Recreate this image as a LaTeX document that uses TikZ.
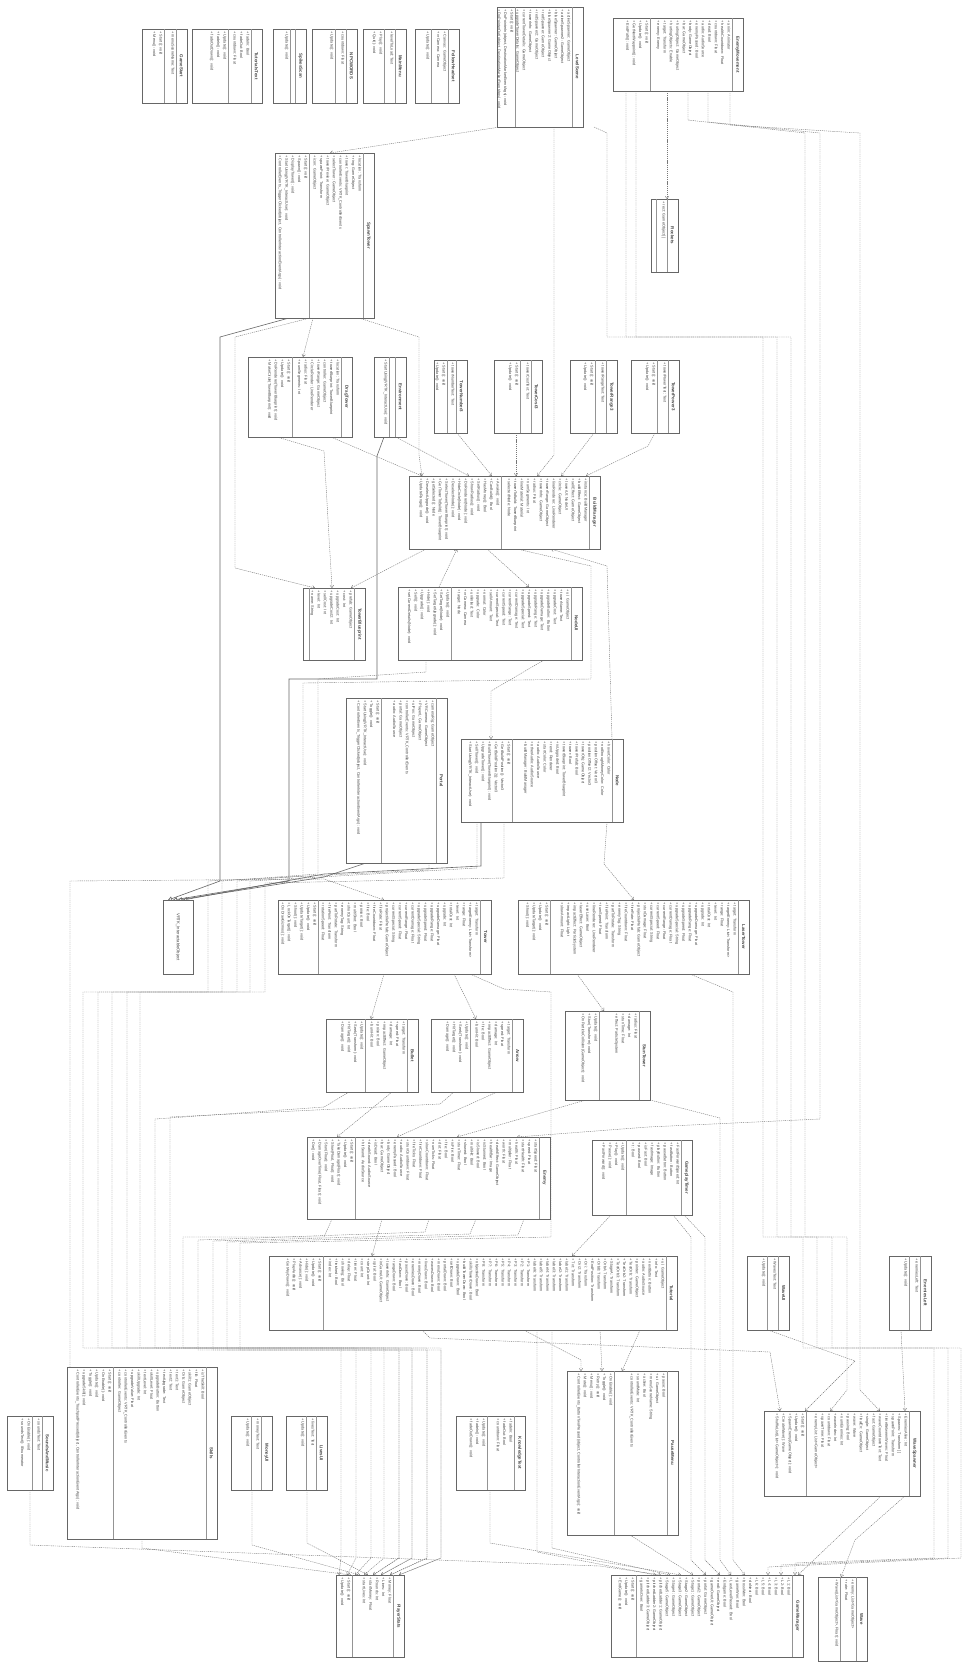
\documentclass[tikz,border=0pt]{standalone}
\usepackage{fontspec}
\setmainfont{Liberation Sans}
\usetikzlibrary{arrows.meta,backgrounds}
\definecolor{linecol}{HTML}{666666}
\definecolor{txtcol}{HTML}{444444}
\definecolor{depcol}{HTML}{777777}
\newcommand\memfont{\fontsize{3.8}{6.4}\selectfont}
\newcommand\ttlfont{\fontsize{4.4}{5}\selectfont\bfseries}
\tikzset{
  clsbox/.style={draw=linecol, fill=white, line width=0.7pt, inner sep=0pt, outer sep=0pt},
  compline/.style={draw=linecol!70, line width=0.4pt},
  ttl/.style={rotate=-90, font=\ttlfont, text=txtcol, inner sep=0pt},
  mem/.style={rotate=-90, anchor=north west, align=left, font=\memfont, text=txtcol, inner sep=0pt},
  dep/.style={draw=depcol, line width=0.4pt, dash pattern=on 1.2pt off 0.9pt, -{Straight Barb[length=2.4pt,width=3.6pt]}},
  inh/.style={draw=linecol, line width=0.6pt, -{Triangle[open,length=4pt,width=4.5pt]}},
}
% #1 name, #2 x1, #3 y1, #4 x2, #5 y2, #6 attribute width, #7 title, #8 attributes, #9 methods
\newcommand\umlclass[9]{%
  \node[clsbox, minimum width={#4pt-#2pt}, minimum height={#5pt-#3pt}, anchor=north west] (#1) at (#2,#3) {};
  \draw[compline] ([xshift=-11pt]#1.north east) -- ([xshift=-11pt]#1.south east);
  \draw[compline] ([xshift={-11pt-#6pt}]#1.north east) -- ([xshift={-11pt-#6pt}]#1.south east);
  \node[ttl] at ([xshift=-5.5pt]#1.east) {#7};
  \node[mem] at ([xshift=-12.5pt, yshift=-2.5pt]#1.north east) {#8};
  \node[mem] at ([xshift={-12.5pt-#6pt}, yshift=-2.5pt]#1.north east) {#9};
}
\begin{document}
\begin{tikzpicture}[x=1pt,y=-1pt]
\useasboundingbox (0,0) rectangle (971,1663);

% ---------------- top row
\umlclass{gamestart}{142}{29}{187}{103}{12}{GameStart}{+ menuSceneName: Text}{+ Start(): void\\+ Menu(): void}
\umlclass{tutorial}{192}{29}{262}{103}{23}{TutorialsText}{+ fadeIn: Bool\\+ fadeOut: Bool\\+ countdown: Float}{+ Update(): void\\+ fadeIn(): void\\+ fadeOutDown(): void}
\umlclass{spikes}{273}{29}{306}{103}{5}{SpikesScan}{}{+ Update(): void}
\umlclass{npc}{312}{29}{357}{103}{11}{NPCWORDS}{+ countdown: Float}{+ Update(): void}
\umlclass{mainmenu}{363}{29}{406}{103}{11}{MainMenu}{+ levelToLoad: Text}{+ Play(): void\\+ Quit(): void}
\umlclass{follow}{415}{29}{459}{103}{17}{FollowHeadset}{+ Canvas: GameObject\\+ vrCamera: Camera}{+ Update(): void}
\umlclass{levelscene}{497}{7}{583}{127}{57}{LevelScene}{+ activeSpawner: GameObject\\+ activeSpawner2: GameObject\\+ blueSpawner: GameObject\\+ blueSpawner2: GameObject\\+ redSpawner: GameObject\\+ redSpawner2: GameObject\\+ towerInfo: GameObject\\+ currentTowerDetails: GameObject\\+ upgradeTowerDetails: GameObject}{+ Start(): void\\+ DoPointerIn(object, DestinationMarkerEventArgs): void\\+ DoPointerOut(object, DestinationMarkerEventArgs): void}
\umlclass{enemymove}{613}{18}{743}{91}{82}{EnemyMovement}{+ anim: Animator\\+ healthCountdown: Float\\+ countdown: Float\\+ dead: Bool\\+ audio: AudioSource\\+ enemyPassed: Bool\\+ body: GameObject\\+ bar: GameObject\\+ hurtingObject: GameObject\\+ hurtingObjects: Enable\\+ target: Transform\\+ enemy: Enemy}{+ Start(): void\\+ Update(): void\\+ GetNextWaypoint(): void\\+ EndPath(): void}
\umlclass{rockets}{651}{199}{678}{272}{11}{Rockets}{+ rect: GameObject[ ]}{}

% ---------------- spawn / build area
\umlclass{spawntower}{275}{153}{374}{318}{54}{SpawnTower}{+ location: Transform\\+ ring: GameObject\\+ tower: TowerBlueprint\\+ controllerEvents: VRTK\_ControllerEvents\\+ selectTower: GameObject\\+ towerPreview: GameObject\\+ spawnPoint: Transform\\+ icon: GameObject}{+ Start(): void\\+ Spawn(): void\\+ DisplayTower(): void\\+ StartUsing(VRTK\_InteractUse): void\\+ ControllerEvents\_TriggerClicked(object, ControllerInteractionEventArgs): void}
\umlclass{dragtower}{248}{357}{352}{437}{49}{DragTower}{+ location: Transform\\+ towerBlueprint: TowerBlueprint\\+ controller: GameObject\\+ towerRange: GameObject\\+ CircleRender: LineRenderer\\+ radius: Float\\+ numSegments: Int}{+ Start(): void\\+ Update(): void\\+ DoRenderer(TowerBlueprint): void\\+ MakeCircle(TowerBlueprint): void}
\umlclass{environment}{374}{357}{406}{437}{6}{Environment}{}{+ StartUsing(VRTK\_InteractUse): void}
\umlclass{towernum}{434}{360}{467}{433}{9}{TowerNumber3}{+ towerNumberText: Text}{+ Start(): void\\+ Update(): void}
\umlclass{towercost}{494}{360}{542}{433}{11}{TowerCost3}{+ towerCostText: Text}{+ Start(): void\\+ Update(): void}
\umlclass{towerrange}{570}{360}{617}{433}{11}{TowerRange3}{+ towerRangeText: Text}{+ Start(): void\\+ Update(): void}
\umlclass{towerpower}{631}{360}{679}{433}{11}{TowerPower3}{+ towerPowerText: Text}{+ Start(): void\\+ Update(): void}
\umlclass{buildm}{409}{476}{600}{549}{88}{BuildManager}{+ instance: BuildManager\\+ buildEffect: GameObject\\+ sellEffect: GameObject\\+ towerUI: NodeUI\\+ circle: GameObject\\+ lineRenderer: LineRenderer\\+ towerRange: GameObject\\+ towerInfo: GameObject\\+ radius: Float\\+ numSegments: Int\\+ lineMaterial: Material\\+ towerToBuild: TowerBlueprint\\+ selectedNode: Node}{+ Awake(): void\\+ CanBuild(): Bool\\+ HasMoney(): Bool\\+ SetRadius(): void\\+ ShowRadius(): void\\+ DoRenderer(Node): void\\+ HideCircle(Node): void\\+ DeselectNode(): void\\+ SelectTower(TowerBlueprint): void\\+ GetTowerToBuild(): TowerBlueprint\\+ getSelected(): Node\\+ DeselectUpgrade(): void\\+ UpdateRange(): void}
\umlclass{tblue}{303}{588}{365}{660}{45}{TowerBlueprint}{+ prefab: GameObject\\+ cost: Int\\+ upgradeCost: Int\\+ upgradeCost2: Int\\+ sellCost: Int\\+ level: Int\\+ name: String}{}
\umlclass{nodeui}{398}{587}{582}{660}{120}{NodeUI}{+ ui: GameObject\\+ towerName: Text\\+ upgradeCost: Text\\+ upgradeButton: Button\\+ upgradeDamage: Text\\+ upgradeRange: Text\\+ upgradeSpeed: Text\\+ upgradeSpecial: Text\\+ currentDamage: Text\\+ currentRange: Text\\+ currentSpeed: Text\\+ currentSpecial: Text\\+ sellAmount: Text\\+ normal: Color\\+ upgrade: Color\\+ unlimited: Text\\+ vrCamera: Camera\\+ target: Node}{+ Update(): void\\+ SetTarget(Node): void\\+ SetTargetUpgrade(): void\\+ Hide(): void\\+ Upgrade(): void\\+ Sell(): void\\+ setCurrentDetails(Node): void}
\umlclass{portal}{346}{698}{447}{863}{55}{Portal}{+ cameraRig: GameObject\\+ VRCamera: GameObject\\+ PlayerL: GameObject\\+ uiPos: GameObject\\+ controllerEvents: VRTK\_ControllerEvents\\+ portal: GameObject\\+ audio: AudioSource}{+ Start(): void\\+ Toggle(): void\\+ StartUsing(VRTK\_InteractUse): void\\+ ControllerEvents\_TriggerClicked(object, ControllerInteractionEventArgs): void}
\umlclass{nodecls}{461}{739}{623}{822}{100}{Node}{+ hoverColor: Color\\+ notEnoughMoneyColor: Color\\+ positionOffset: Vector3\\+ positionOffset2: Vector3\\+ towerObj: GameObject\\+ towerPrefab: Bool\\+ tower: Bool\\+ towerBlueprint: TowerBlueprint\\+ isUpgraded: Bool\\+ rend: Renderer\\+ startColor: Color\\+ audio: AudioSource\\+ otherAudio: AudioSource\\+ buildManager: BuildManager}{+ Start(): void\\+ GetBuildPosition(): Vector3\\+ GetBuildPosition2(): Vector3\\+ BuildTower(TowerBlueprint): void\\+ UpgradeTower(): void\\+ SellTower(): void\\+ StartUsing(VRTK\_InteractUse): void}

% ---------------- towers
\node[clsbox, minimum width=30pt, minimum height=74pt, anchor=north west] (vrtk) at (163,900) {};
\node[rotate=-90, font=\fontsize{4.2}{5}\selectfont, text=txtcol, inner sep=0pt] at (vrtk.center) {VRTK\_InteractableObject};
\umlclass{tower}{278}{900}{491}{974}{162}{Tower}{+ target: Transform\\+ targetEnemy: List<Transform>\\+ range: Float\\+ level: Int\\+ totalCost: Int\\+ upgrade: Int\\+ upgradeDamage: Float\\+ upgradeRange: Float\\+ upgradeSpeed: Float\\+ upgradeSpecial: String\\+ currentDamage: Float\\+ currentRange: Float\\+ currentSpeed: Float\\+ currentSpecial: String\\+ projectilePrefab: GameObject\\+ fireRate: Float\\+ fireCountdown: Float\\+ fire: Bool\\+ poison: Bool\\+ multiShot: Bool\\+ shotCount: Int\\+ enemyTag: String\\+ partToRotate: Transform\\+ firePoint: Transform\\+ rotationSpeed: Float}{+ Start(): void\\+ Update(): void\\+ UpdateTarget(): void\\+ Shoot(): void\\+ LockOnTarget(): void\\+ OnDrawGizmos(): void}
\umlclass{laser}{518}{900}{749}{974}{188}{LaserTower}{+ target: Transform\\+ targetEnemy: List<Transform>\\+ range: Float\\+ level: Int\\+ totalCost: Int\\+ upgrade: Int\\+ upgradeDamage: Float\\+ upgradeRange: Float\\+ upgradeSpeed: Float\\+ upgradeSpecial: String\\+ currentDamage: Float\\+ currentRange: Float\\+ currentSpeed: Float\\+ currentSpecial: String\\+ stunDamage: Float\\+ projectilePrefab: GameObject\\+ fireRate: Float\\+ fireCountdown: Float\\+ enemyTag: String\\+ partToRotate: Transform\\+ firePoint: Transform\\+ turnSpeed: Float\\+ lineRenderer: LineRenderer\\+ useLaser: Bool\\+ laserEffect: GameObject\\+ impactEffect: ParticleSystem\\+ impactLight: Light\\+ slowAmount: Float}{+ Start(): void\\+ Update(): void\\+ UpdateTarget(): void\\+ Shoot(): void}
\umlclass{bullet}{326}{1019}{418}{1092}{42}{Bullet}{+ target: Transform\\+ speed: Float\\+ damage: Int\\+ impactEffect: GameObject\\+ poison: Bool\\+ burnHit: Bool}{+ Update(): void\\+ Seek(Transform): void\\+ HitTarget(): void\\+ Damage(): void}
\umlclass{arrowcls}{431}{1019}{523}{1092}{42}{Arrow}{+ target: Transform\\+ speed: Float\\+ damage: Int\\+ impactEffect: GameObject\\+ fire: Bool\\+ burnHit: Bool}{+ Update(): void\\+ Seek(Transform): void\\+ HitTarget(): void\\+ Damage(): void}
\umlclass{slowtower}{565}{1011}{650}{1100}{40}{StunTower}{+ radius: Float\\+ damage: Int\\+ stunTime: Float\\+ effect: ParticleSystem}{+ Update(): void\\+ Stun(Transform): void\\+ OnParticleCollision(GameObject): void}
\umlclass{enemy}{307}{1137}{550}{1219}{184}{Enemy}{+ startSpeed: Float\\+ speed: Float\\+ startHealth: Float\\+ health: Float\\+ multiplier: Float\\+ worth: Float\\+ deathEffect: GameObject\\+ healthBar: Image\\+ isStunned: Bool\\+ isSlowed: Bool\\+ multiHit: Bool\\+ slowed: Bool\\+ stunTimer: Float\\+ isFire: Bool\\+ fire: Bool\\+ dot: Float\\+ numTicks: Float\\+ slowCountdown: Float\\+ fireCountdown: Float\\+ fireTicks: Float\\+ stunCountdown: Float\\+ audio: AudioSource\\+ enemyPassed: Bool\\+ body: GameObject\\+ bar: GameObject\\+ isDead: Bool\\+ deathSound: AudioSource\\+ hitSound: AudioSource}{+ Start(): void\\+ Update(): void\\+ TakeDamage(Float): void\\+ Slow(Float, Float): void\\+ Stun(Float): void\\+ DamageOverTime(Float, Float): void\\+ Die(): void}
\umlclass{gptimer}{592}{1140}{692}{1215}{55}{GameplayTimer}{+ FastForwardSpeed: Int\\+ fastButton: Button\\+ pauseButton: Button\\+ playButton: Button\\+ fastImage: Image\\+ isFast: Bool\\+ paused: Bool\\+ t: Bool}{+ Update(): void\\+ Play(): void\\+ Pause(): void\\+ FastForward(): void}

% ---------------- lower part
\umlclass{prefab}{269}{1256}{677}{1330}{343}{Tutorial}{+ ui: GameObject\\+ info: Text\\+ nextButton: Button\\+ audio: AudioSource\\+ pointer: GameObject\\+ TextOrb: Transform\\+ TextOrb2: Transform\\+ TextOrb3: Transform\\+ StageA: Transform\\+ OrbA: Transform\\+ OrbB: Transform\\+ EndPosition: Transform\\+ Ori: Transform\\+ Ori2: Transform\\+ Txt: Transform\\+ label1: Transform\\+ label2: Transform\\+ label3: Transform\\+ label4: Transform\\+ label5: Transform\\+ label6: Transform\\+ P1: Transform\\+ P2: Transform\\+ P3: Transform\\+ P4: Transform\\+ P5: Transform\\+ P6: Transform\\+ P7: Transform\\+ P8: Transform\\+ objectiveDown: Bool\\+ skillsTowerDown: Bool\\+ buildTowerDown: Bool\\+ upgradeDown: Bool\\+ sellDown: Bool\\+ portalDown: Bool\\+ menuDown: Bool\\+ wavesDown: Bool\\+ livesDown: Bool\\+ moneyDown: Bool\\+ enemiesDown: Bool\\+ pauseDown: Bool\\+ fastDown: Bool\\+ rangeDown: Bool\\+ towerInfo: GameObject\\+ inGameUI: GameObject\\+ spiral: Bool\\+ stepCount: Int\\+ count: Int\\+ timer: Float\\+ delay: Float\\+ showing: Bool\\+ finished: Bool\\+ index: Int}{+ Start(): void\\+ Update(): void\\+ Hide(): void\\+ Advance(): void\\+ PlayAudio(): void\\+ GetAnyDown(): void}
\umlclass{waveui}{747}{1256}{789}{1330}{11}{WaveUI}{+ WavesText: Text}{+ Update(): void}
\umlclass{livesleft}{889}{1256}{931}{1330}{11}{EnemiesLeft}{+ enemiesLeft: Text}{+ Update(): void}
\umlclass{ws}{764}{1411}{920}{1496}{103}{WaveSpawner}{+ EnemiesAlive: Int\\+ Spawns: Transform[ ]\\+ spawnPoint: Transform\\+ timeBetweenWaves: Float\\+ waveCountdownText: Text\\+ fast: GameObject\\+ single: GameObject\\+ finalEn: GameObject\\+ wave: Wave\\+ pausing: Bool\\+ numEnemies: Int\\+ waveIndex: Int\\+ countdown: Float\\+ spawnTime: Float\\+ enemyList: List<GameObject>}{+ Start(): void\\+ Update(): void\\+ SpawnEnemy(GameObject): void\\+ CreateWave(): Wave\\+ ShuffleList(List<GameObject>): void}
\umlclass{pausemenu}{567}{1371}{678}{1535}{53}{PauseMenu}{+ pause: Bool\\+ ui: GameObject\\+ menuSceneName: String\\+ active: Bool\\+ soundMute: Int\\+ controllerEvents: VRTK\_ControllerEvents}{+ OnEnable(): void\\+ Toggle(): void\\+ Retry(): void\\+ Menu(): void\\+ Mute(): void\\+ ControllerEvents\_ButtonTwoPressed(object, ControllerInteractionEventArgs): void}
\umlclass{knowledge}{456}{1416}{525}{1490}{27}{KnowledgeText}{+ fadeIn: Bool\\+ fadeOut: Bool\\+ countdown: Float}{+ Update(): void\\+ fadeIn(): void\\+ fadeOutDown(): void}
\umlclass{ps}{336}{1575}{404}{1657}{41}{PlayerStats}{+ Money: Float\\+ Lives: Int\\+ Rounds: Int\\+ startMoney: Float\\+ startLives: Int}{+ Start(): void\\+ Update(): void}
\umlclass{gm}{611}{1575}{803}{1657}{156}{GameManager}{+ L1: Bool\\+ L2: Bool\\+ L3: Bool\\+ L4: Bool\\+ L5: Bool\\+ L6: Bool\\+ doNext: Bool\\+ bossWon: Bool\\+ gameWon: Bool\\+ LastLevelPassed: Bool\\+ Endgame: Bool\\+ endl: GameObject\\+ gameOverUI: GameObject\\+ portal: GameObject\\+ portal2: GameObject\\+ Stage1: GameObject\\+ Stage2: GameObject\\+ Stage3: GameObject\\+ Stage4: GameObject\\+ Stage5: GameObject\\+ pitchedLadder1: GameObject\\+ pitchedLadder2: GameObject\\+ pitchedLadder3: GameObject\\+ gameIsOver: Bool}{+ Start(): void\\+ Update(): void\\+ EndGame(): void}
\umlclass{wave}{818}{1577}{867}{1661}{16}{Wave}{+ enemy: List<GameObject>\\+ rate: Float}{+ Wave(List<GameObject>, Float): void}
\umlclass{skills}{67}{1367}{217}{1539}{93}{Skills}{+ isTheSkill: Bool\\+ fill: Float\\+ skill1: GameObject\\+ Orb: GameObject\\+ text1: Text\\+ text2: Text\\+ textUpgrade: Text\\+ upgradeButton: Button\\+ skillLevel: Float\\+ textLevel: Int\\+ skillUpgrade: Int\\+ upgradeValue: Float\\+ controllerEvents: VRTK\_ControllerEvents\\+ controller: GameObject}{+ Start(): void\\+ OnEnable(): void\\+ Update(): void\\+ Toggle(): void\\+ upgradeSkill(): void\\+ ControllerEvents\_TouchpadPressed(object, ControllerInteractionEventArgs): void}
\umlclass{sounds}{7}{1416}{53}{1490}{10}{SoundsAndMusic}{+ soundsText: Text}{+ OnEnable(): void\\+ soundsText(): IEnumerator}
\umlclass{moneyui}{231}{1416}{272}{1490}{10}{MoneyUI}{+ moneyText: Text}{+ Update(): void}
\umlclass{livesui}{286}{1416}{327}{1490}{10}{LivesUI}{+ livesText: Text}{+ Update(): void}

\begin{pgfonlayer}{background}
\fill[white] (0,0) rectangle (971,1663);
% top area
\draw[dep] (500,0 |- levelscene.south) -- (330,0 |- spawntower.north);
\draw[dep] (313,0 |- spawntower.south) -- (303,0 |- dragtower.north);
\draw[inh] (289,0 |- spawntower.south) -- (220,337) -- (220,881) -- (168,0 |- vrtk.north);
\draw[dep] (310,0 |- spawntower.south) -- (235,337) -- (235,568) -- (315,0 |- tblue.north);
\draw[dep] (359,0 |- spawntower.south) -- (419,337) -- (419,455) -- (422,0 |- buildm.north);
\draw[dep] (331,0 |- dragtower.south) -- (422,0 |- buildm.north);
\draw[dep] (277,0 |- dragtower.south) -- (324,451) -- (332,0 |- tblue.north);
\draw[dep] (396,0 |- environment.south) -- (469,0 |- buildm.north);
\draw[inh] (384,0 |- environment.south) -- (377,456) -- (377,679) -- (289,679) -- (289,881) -- (173,0 |- vrtk.north);
\draw[dep] (457,0 |- towernum.south) -- (492,0 |- buildm.north);
\draw[dep] (516,0 |- towercost.south) -- (516,0 |- buildm.north);
\draw[dep] (594,0 |- towerrange.south) -- (561,0 |- buildm.north);
\draw[dep] (655,0 |- towerpower.south) -- (648,446) -- (586,0 |- buildm.north);
\draw[dep] (554,0 |- levelscene.south) -- (554,455) -- (537,0 |- buildm.north);
\draw[dep] (667,0 |- enemymove.south) -- (667,0 |- rockets.north);
% build manager area
\draw[dep] (426,0 |- buildm.south) -- (351,0 |- tblue.north);
\draw[dep] (439,0 |- nodeui.north) -- (457,0 |- buildm.south);
\draw[dep] (487,0 |- buildm.south) -- (529,0 |- nodeui.north);
\draw[dep] (544,0 |- nodeui.south) -- (491,691) -- (491,0 |- nodecls.north);
\draw[dep] (612,0 |- nodecls.north) -- (607,566) -- (551,0 |- buildm.south);
\draw[inh] (481,0 |- nodecls.south) -- (481,866) -- (324,874) -- (183,0 |- vrtk.north);
\draw[inh] (366,0 |- portal.south) -- (324,877) -- (178,0 |- vrtk.north);
% left bundle
\draw[dep] (70,0 |- skills.north) -- (70,881) -- (324,879) -- (384,0 |- tower.north);
\draw[dep] (429,0 |- portal.south) -- (429,870) -- (208,881) -- (208,992) -- (83,992) -- (83,1348) -- (341,1348) -- (341,1558) -- (339,0 |- ps.north);
\draw[dep] (426,0 |- nodeui.south) -- (426,672) -- (318,679) -- (318,874) -- (222,881) -- (222,992) -- (98,992) -- (98,1348) -- (356,1348) -- (356,1558) -- (347,0 |- ps.north);
\draw[dep] (517,0 |- buildm.south) -- (591,566) -- (591,679) -- (303,683) -- (303,876) -- (237,881) -- (237,992) -- (112,992) -- (112,1348) -- (371,1348) -- (371,1558) -- (355,0 |- ps.north);
\draw[dep] (477,0 |- nodecls.south) -- (477,868) -- (250,881) -- (250,992) -- (127,992) -- (127,1348) -- (384,1348) -- (384,1558) -- (364,0 |- ps.north);
\draw[dep] (504,0 |- nodecls.south) -- (504,878) -- (265,883) -- (265,992) -- (140,992) -- (140,1348) -- (399,1348) -- (399,1558) -- (373,0 |- ps.north);
\draw[dep] (349,0 |- bullet.south) -- (324,1107) -- (155,1119) -- (155,1348) -- (412,1348) -- (412,1558) -- (381,0 |- ps.north);
\draw[dep] (454,0 |- arrowcls.south) -- (440,1104) -- (170,1117) -- (170,1348) -- (427,1348) -- (427,1558) -- (390,0 |- ps.north);
\draw[dep] (332,0 |- enemy.south) -- (324,1237) -- (183,1237) -- (183,1348) -- (441,1348) -- (441,1558) -- (399,0 |- ps.north);
\draw[dep] (382,0 |- enemy.south) -- (372,0 |- prefab.north);
\draw[dep] (429,0 |- enemy.south) -- (425,1232) -- (198,1240) -- (198,1350) -- (441,1350) -- (441,1558) -- (399,0 |- ps.north);
\draw[dep] (476,0 |- enemy.south) -- (470,1234) -- (213,1241) -- (213,1350) -- (427,1350) -- (427,1558) -- (390,0 |- ps.north);
\draw[dep] (524,0 |- enemy.south) -- (518,1235) -- (227,1242) -- (227,1350) -- (412,1350) -- (412,1558) -- (381,0 |- ps.north);
\draw[dep] (470,0 |- tower.south) -- (504,989) -- (551,992) -- (551,1237) -- (240,1243) -- (240,1350) -- (399,1350) -- (399,1558) -- (373,0 |- ps.north);
% towers
\draw[dep] (384,0 |- tower.south) -- (371,0 |- bullet.north);
\draw[dep] (454,0 |- tower.south) -- (476,0 |- arrowcls.north);
\draw[dep] (577,0 |- laser.south) -- (604,0 |- slowtower.north);
\draw[dep] (392,0 |- bullet.south) -- (337,0 |- enemy.north);
\draw[dep] (497,0 |- arrowcls.south) -- (397,0 |- enemy.north);
\draw[dep] (586,0 |- slowtower.south) -- (457,0 |- enemy.north);
\draw[dep] (607,0 |- nodecls.south) -- (604,864) -- (634,0 |- laser.north);
% right bundle
\draw[dep] (636,0 |- enemymove.south) -- (636,337) -- (763,337) -- (763,1237) -- (803,1237) -- (803,1348) -- (934,1348) -- (934,1558) -- (795,1563) -- (795,0 |- gm.north);
\draw[dep] (626,0 |- enemymove.south) -- (626,337) -- (777,337) -- (777,1237) -- (817,1237) -- (817,1348) -- (948,1348) -- (948,1558) -- (781,1565) -- (781,0 |- gm.north);
\draw[dep] (594,0 |- levelscene.south) -- (607,133) -- (607,337) -- (791,337) -- (791,1237) -- (832,1237) -- (832,1348) -- (961,1348) -- (961,1558) -- (768,1567) -- (768,0 |- gm.north);
\draw[dep] (688,0 |- enemymove.south) -- (688,120) -- (805,133) -- (805,1237) -- (847,1237) -- (847,1390) -- (830,0 |- ws.north);
\draw[dep] (708,0 |- enemymove.south) -- (708,122) -- (820,133) -- (820,1119) -- (648,1127) -- (517,0 |- enemy.north);
\draw[dep] (730,0 |- enemymove.south) -- (730,125) -- (860,133) -- (860,1390) -- (880,0 |- ws.north);
% middle lower
\draw[dep] (690,0 |- laser.south) -- (733,992) -- (733,1560) -- (745,0 |- gm.north);
\draw[dep] (650,0 |- slowtower.south) -- (720,1118) -- (720,1560) -- (731,0 |- gm.north);
\draw[dep] (673,0 |- gptimer.south) -- (691,1237) -- (691,1560) -- (706,0 |- gm.north);
\draw[dep] (684,0 |- gptimer.south) -- (705,1237) -- (705,1560) -- (720,0 |- gm.north);
\draw[dep] (611,0 |- gptimer.south) -- (572,0 |- prefab.north);
\draw[dep] (537,0 |- prefab.south) -- (537,1552) -- (656,0 |- gm.north);
\draw[dep] (552,0 |- prefab.south) -- (552,1548) -- (670,0 |- gm.north);
\draw[dep] (490,0 |- knowledge.south) -- (490,1543) -- (681,0 |- gm.north);
\draw[dep] (630,0 |- pausemenu.south) -- (693,0 |- gm.north);
\draw[dep] (524,0 |- prefab.south) -- (581,1360) -- (581,0 |- pausemenu.north);
\draw[dep] (600,0 |- prefab.south) -- (602,0 |- pausemenu.north);
\draw[dep] (640,0 |- prefab.south) -- (622,0 |- pausemenu.north);
\draw[dep] (422,0 |- prefab.south) -- (430,1338) -- (770,1352) -- (780,0 |- ws.north);
\draw[dep] (768,0 |- waveui.south) -- (855,1361) -- (805,0 |- ws.north);
\draw[dep] (901,0 |- livesleft.south) -- (905,0 |- ws.north);
\draw[dep] (881,0 |- ws.south) -- (798,0 |- gm.north);
\draw[dep] (905,0 |- ws.south) -- (855,1540) -- (841,0 |- wave.north);
% bottom left
\draw[dep] (30,0 |- sounds.south) -- (30,1545) -- (600,1566) -- (661,0 |- gm.north);
\draw[dep] (142,0 |- skills.south) -- (142,1548) -- (351,0 |- ps.north);
\draw[dep] (252,0 |- moneyui.south) -- (252,1545) -- (360,0 |- ps.north);
\draw[dep] (307,0 |- livesui.south) -- (307,1543) -- (368,0 |- ps.north);
\end{pgfonlayer}
\end{tikzpicture}
\end{document}
